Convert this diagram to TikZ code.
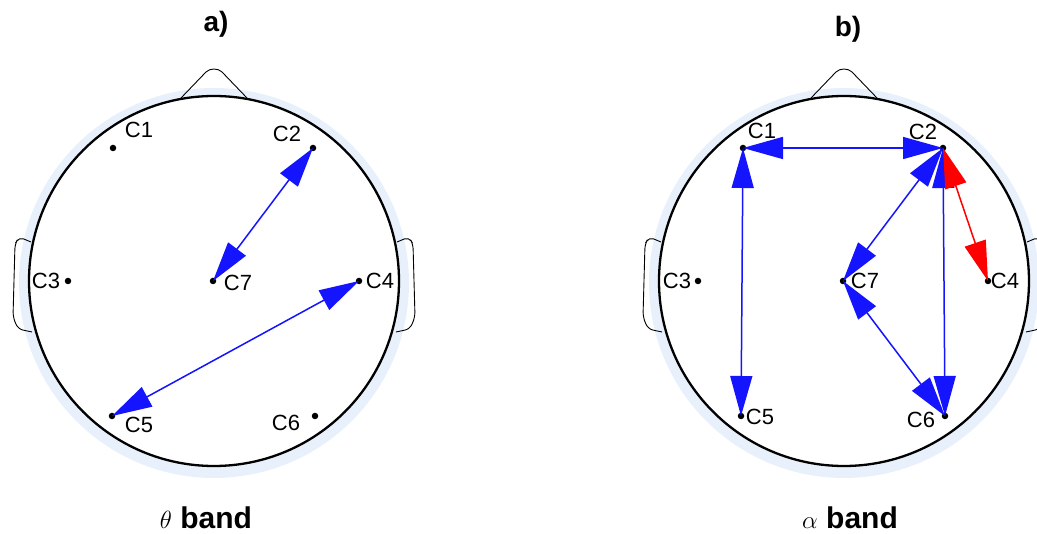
\documentclass[tikz,border=0pt]{standalone}
\usepackage{fontspec}
\setmainfont{Liberation Sans}
\usetikzlibrary{arrows.meta}
\definecolor{halo}{RGB}{232,241,251}
\definecolor{arrblue}{RGB}{20,20,255}
\definecolor{arrred}{RGB}{255,0,0}
\tikzset{
  headring/.style={draw=black, line width=2.3pt, fill=white},
  outline/.style={draw=black, line width=0.9pt},
  elec/.style={circle, fill=black, inner sep=0pt, minimum size=6.5pt},
  lab/.style={font=\fontsize{22}{22}\selectfont, inner sep=0pt},
  ttl/.style={font=\fontsize{28}{28}\selectfont\bfseries, inner sep=0pt},
  band/.style={font=\fontsize{30}{30}\selectfont\bfseries, inner sep=0pt},
  biarrow/.style={line width=1.5pt,
    {Triangle[length=40pt,width=22pt]}-{Triangle[length=40pt,width=22pt]}},
  bluearr/.style={biarrow, draw=arrblue, fill=arrblue},
  redarr/.style={biarrow, draw=arrred, fill=arrred},
}
\newcommand{\headshape}{%
  \fill[halo] (0,2) circle (195);
  \draw[headring] (0,0) circle (185);
  \draw[outline] (-33,-183) -- (-8,-209) .. controls (-4,-213) and (4,-213) .. (8,-209) -- (33,-183);
  \draw[outline, rounded corners=5pt] (-183,-39) -- (-195,-44) -- (-199,-37) -- (-201,36) -- (-196,48) -- (-182,51);
  \draw[outline, rounded corners=5pt] (183,-39) -- (195,-44) -- (199,-37) -- (201,36) -- (196,48) -- (182,51);
}
\begin{document}
\begin{tikzpicture}[x=1pt,y=-1pt]
\useasboundingbox (0,0) rectangle (1037,534);
% ---------- panel a ----------
\begin{scope}[shift={(214,281)}]
  \headshape
\end{scope}
\coordinate (aC1) at (113,148);
\coordinate (aC2) at (313,148);
\coordinate (aC3) at (68,281);
\coordinate (aC4) at (359,281);
\coordinate (aC5) at (112,416);
\coordinate (aC6) at (315,416);
\coordinate (aC7) at (213,281);
\foreach \e in {aC1,aC2,aC3,aC4,aC5,aC6,aC7} \node[elec] at (\e) {};
\node[lab] (laC1) at (139,130) {C1};
\node[lab] (laC2) at (287,134) {C2};
\node[lab] (laC3) at (46,281) {C3};
\node[lab] (laC4) at (380,281) {C4};
\node[lab] (laC5) at (139,425) {C5};
\node[lab] (laC6) at (286,423) {C6};
\node[lab] (laC7) at (238,283) {C7};
\draw[bluearr] (aC2) -- (aC7);
\draw[bluearr] (aC4) -- (aC5);
\node[ttl] (ta) at (216,24) {a)};
\node[band] (ba) at (206,518) {$\theta$ band};
% ---------- panel b ----------
\begin{scope}[shift={(844,281)}]
  \headshape
\end{scope}
\coordinate (bC1) at (743,148);
\coordinate (bC2) at (943,148);
\coordinate (bC3) at (698,281);
\coordinate (bC4) at (988,281);
\coordinate (bC5) at (741,416);
\coordinate (bC6) at (945,416);
\coordinate (bC7) at (843,281);
\foreach \e in {bC1,bC2,bC3,bC4,bC5,bC6,bC7} \node[elec] at (\e) {};
\node[lab] (lbC1) at (762,131) {C1};
\node[lab] (lbC2) at (923,132) {C2};
\node[lab] (lbC3) at (677,281) {C3};
\node[lab] (lbC4) at (1005,281) {C4};
\node[lab] (lbC5) at (760,417) {C5};
\node[lab] (lbC6) at (921,420) {C6};
\node[lab] (lbC7) at (865,281) {C7};
\draw[bluearr] (bC1) -- (bC2);
\draw[bluearr] (bC1) -- (bC5);
\draw[bluearr] (bC2) -- (bC7);
\draw[bluearr] (bC7) -- (bC6);
\draw[bluearr] (bC2) -- (bC6);
\draw[redarr] (bC2) -- (bC4);
\node[ttl] (tb) at (848,29) {b)};
\node[band] (bb) at (850,518) {$\alpha$ band};
\end{tikzpicture}
\end{document}
